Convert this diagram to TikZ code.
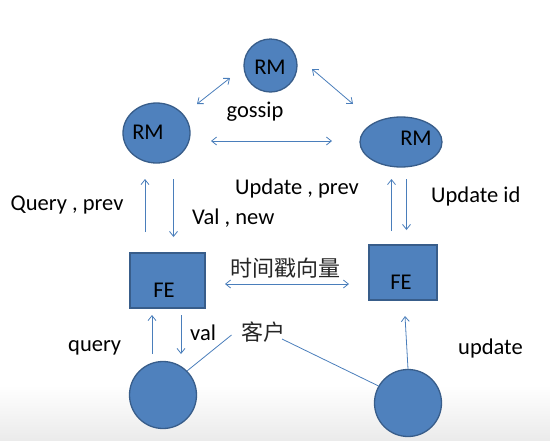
\documentclass[tikz,border=0pt]{standalone}
\usepackage{fontspec}
\setmainfont{Carlito}
\newfontfamily\cjk{Noto Sans CJK SC}
\usetikzlibrary{arrows.meta,shapes.geometric}
\definecolor{fillb}{HTML}{4F81BD}
\definecolor{edgeb}{HTML}{385D8A}
\definecolor{arrb}{HTML}{4A7EBB}
\tikzset{
  blob/.style={draw=edgeb,line width=1.3pt,fill=fillb,inner sep=0pt},
  lbl/.style={font=\fontsize{22.5}{26}\selectfont,inner sep=0pt,text=black},
  cjklbl/.style={font=\cjk\fontsize{22}{26}\selectfont,inner sep=0pt,text=black!85},
  arr/.style={draw=arrb,line width=0.8pt,-{Straight Barb[length=5pt,width=8pt]}},
  darr/.style={draw=arrb,line width=0.8pt,{Straight Barb[length=5pt,width=8pt]}-{Straight Barb[length=5pt,width=8pt]}},
  ln/.style={draw=arrb,line width=0.8pt}
}
\begin{document}
\begin{tikzpicture}[x=1pt,y=-1pt]
\useasboundingbox (0,0) rectangle (550,440);
\shade[top color=white,bottom color=black!8] (0,385) rectangle (550,440);
% RM nodes
\node[blob,ellipse,minimum width=53pt,minimum height=53pt] (rmtop) at (270.5,65.5) {};
\node[blob,ellipse,minimum width=67pt,minimum height=60pt] (rmleft) at (156.5,133) {};
\node[blob,ellipse,minimum width=82pt,minimum height=50pt] (rmright) at (401,142) {};
\node[lbl] (trmtop) at (270,67) {RM};
\node[lbl] (trmleft) at (148,132) {RM};
\node[lbl] (trmright) at (416,138) {RM};
\node[lbl] (gossip) at (255,112) {gossip};
% gossip arrows
\coordinate (g1a) at (197,104); \coordinate (g1b) at (230,78);
\coordinate (g2a) at (312,69); \coordinate (g2b) at (353,104);
\coordinate (g3a) at (211,141); \coordinate (g3b) at (332,141);
\draw[darr] (g1a) -- (g1b);
\draw[darr] (g2a) -- (g2b);
\draw[darr] (g3a) -- (g3b);
% FE nodes
\node[blob,rectangle,line width=1.1pt,minimum width=75pt,minimum height=55pt] (feleft) at (167.5,280.5) {};
\node[blob,rectangle,line width=1.1pt,minimum width=68pt,minimum height=55pt] (feright) at (403,272.5) {};
\node[lbl] (tfeleft) at (164,290) {FE};
\node[lbl] (tferight) at (401,282) {FE};
% RM-FE arrows
\coordinate (a1a) at (145,232); \coordinate (a1b) at (145,179);
\coordinate (a2a) at (173.5,179); \coordinate (a2b) at (173.5,237);
\coordinate (a3a) at (391.5,231); \coordinate (a3b) at (391.5,179);
\coordinate (a4a) at (406.5,179); \coordinate (a4b) at (406.5,230);
\draw[arr] (a1a) -- (a1b);
\draw[arr] (a2a) -- (a2b);
\draw[arr] (a3a) -- (a3b);
\draw[arr] (a4a) -- (a4b);
\node[lbl,anchor=west] (qprev) at (10.5,205) {Query , prev};
\node[lbl,anchor=west] (valnew) at (192,218) {Val , new};
\node[lbl,anchor=west] (uprev) at (235,188) {Update , prev};
\node[lbl,anchor=west] (uid) at (431,196) {Update id};
% timestamp
\coordinate (t1a) at (225,284); \coordinate (t1b) at (349,284);
\draw[darr] (t1a) -- (t1b);
\node[cjklbl] (ts) at (285.5,268) {时间戳向量};
% clients
\node[blob,circle,minimum size=67pt] (cleft) at (163,395) {};
\node[blob,circle,minimum size=67pt] (cright) at (408,403) {};
\coordinate (c1a) at (152,354); \coordinate (c1b) at (152,315);
\coordinate (c2a) at (181,315); \coordinate (c2b) at (181,354);
\coordinate (c3b) at (405,316);
\draw[arr] (c1a) -- (c1b);
\draw[arr] (c2a) -- (c2b);
\draw[arr] (cright.north) -- (c3b);
\node[lbl,anchor=west] (query) at (68,348) {query};
\node[lbl,anchor=west] (val) at (190,333) {val};
\node[lbl,anchor=west] (update) at (458,348) {update};
\node[cjklbl] (kehu) at (263,332) {客户};
\coordinate (k1) at (231.5,335);
\coordinate (k2) at (282,339);
\draw[ln] (k1) -- (cleft.45);
\draw[ln] (k2) -- (cright.150);
\end{tikzpicture}
\end{document}
